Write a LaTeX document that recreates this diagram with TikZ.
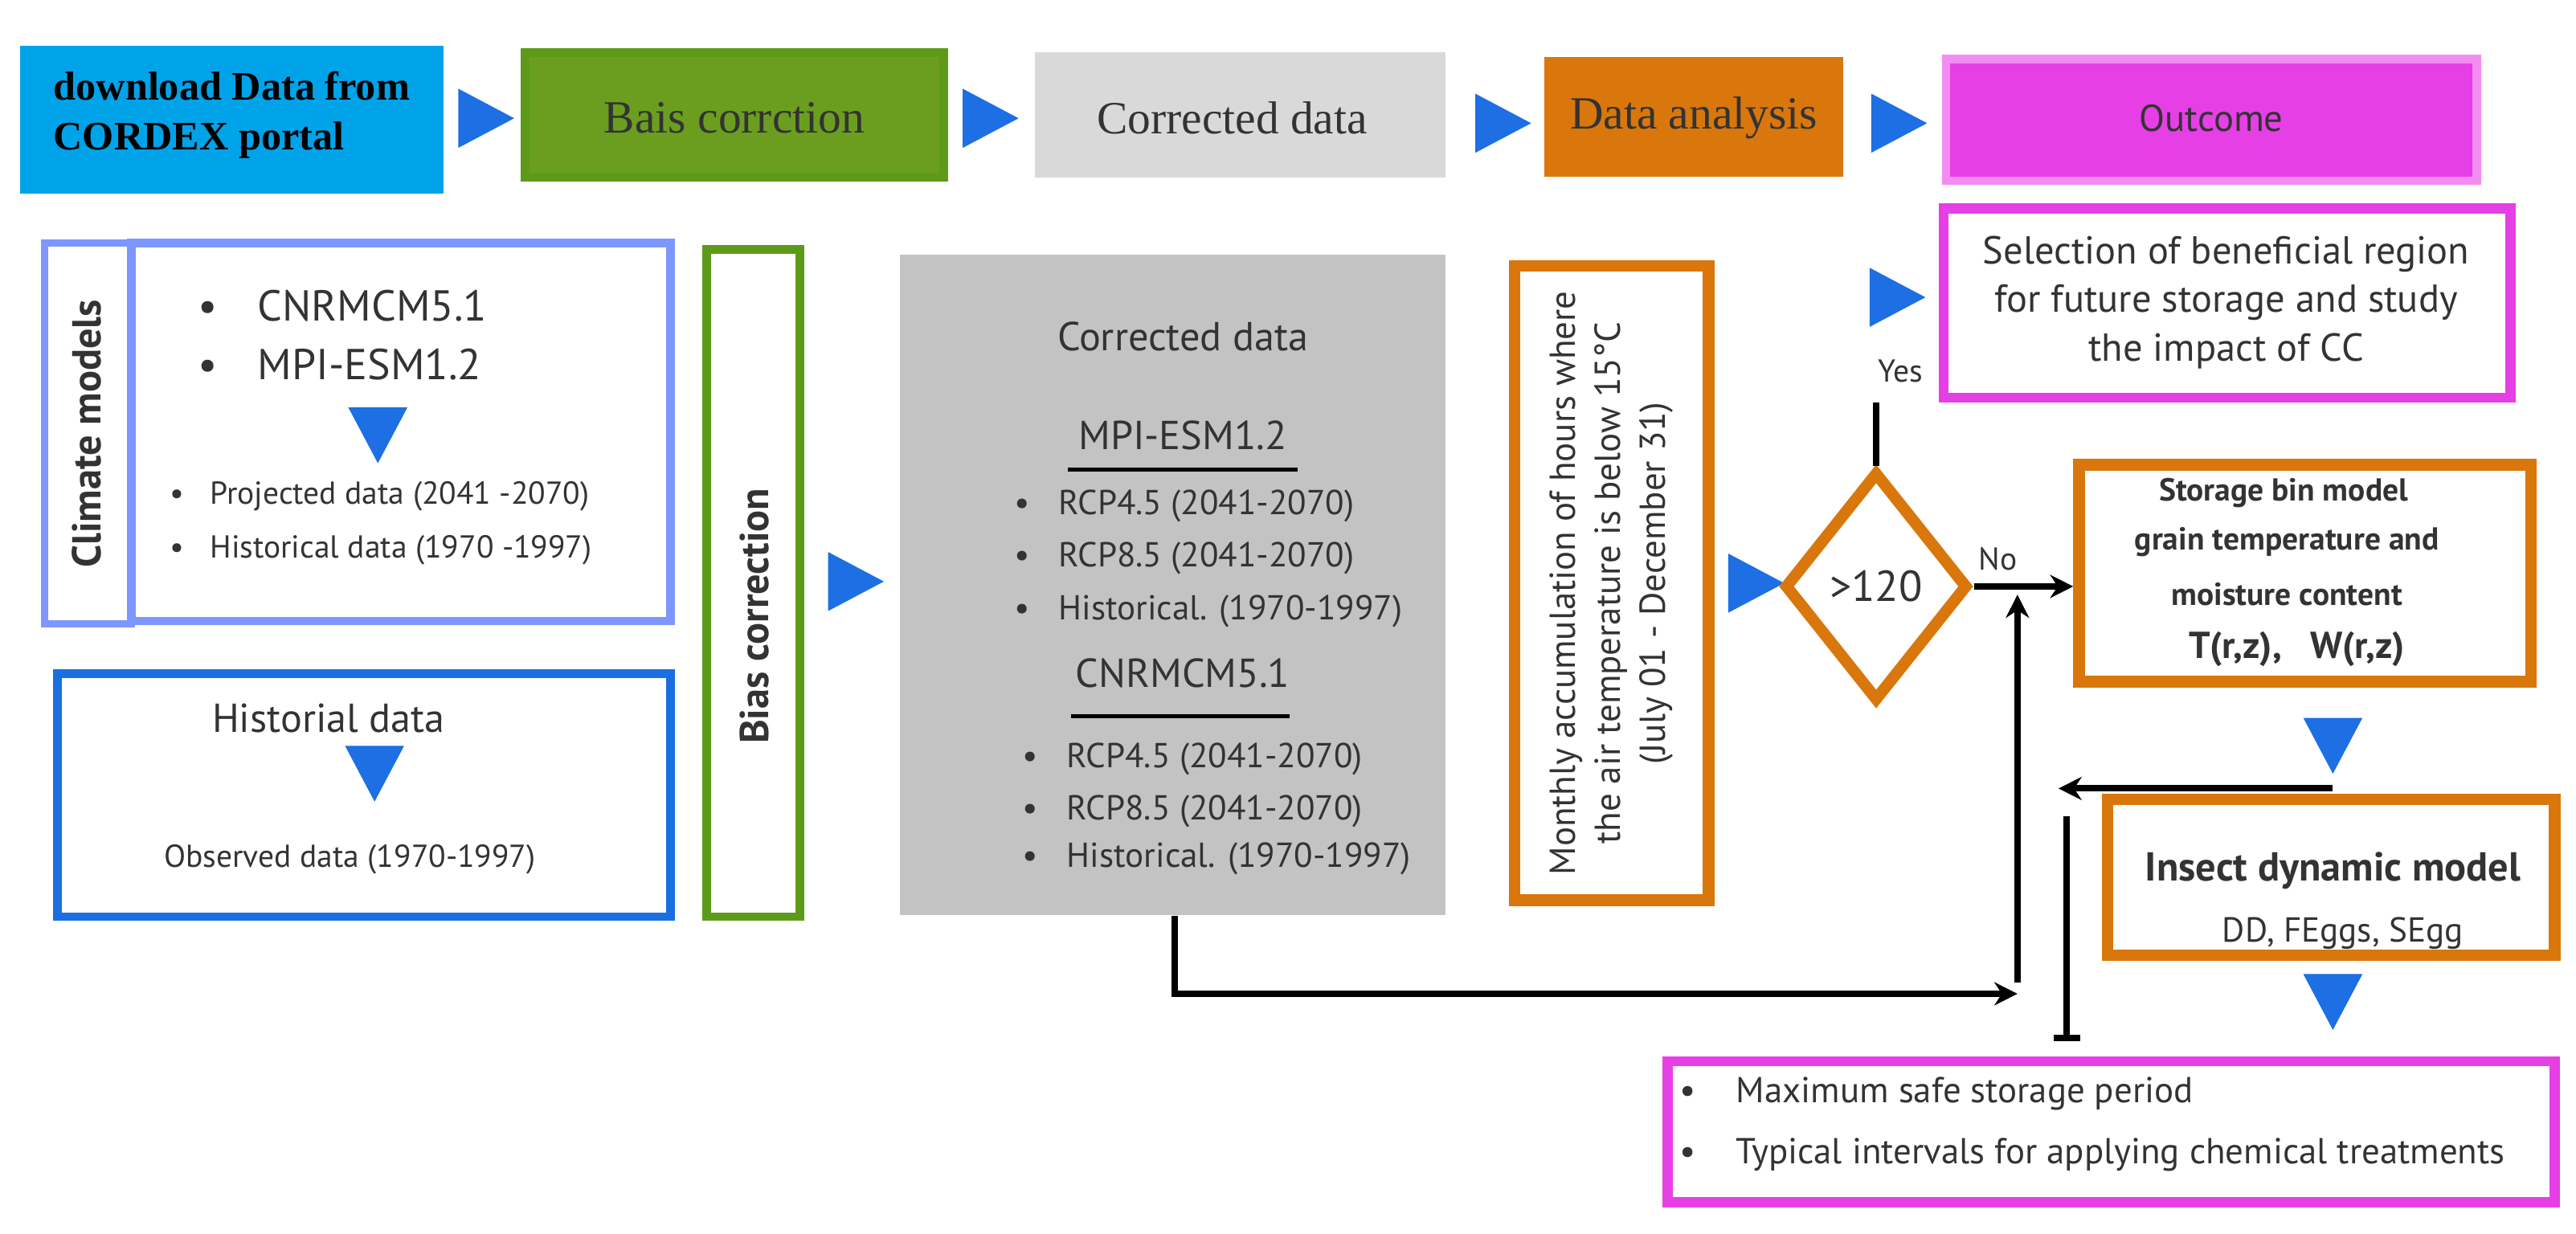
\documentclass[tikz,border=0pt]{standalone}
\usepackage{fontspec}
\setmainfont{PT Sans}
\newfontfamily\serifk{Liberation Serif}
\usetikzlibrary{shapes.geometric,arrows.meta}
\definecolor{tri}{HTML}{1D6FE3}
\definecolor{cyanb}{HTML}{00A3E8}
\definecolor{grn}{HTML}{6B9E1F}
\definecolor{grnb}{HTML}{5E9A1A}
\definecolor{lgray}{HTML}{D9D9D9}
\definecolor{org}{HTML}{D9770C}
\definecolor{mag}{HTML}{E63FE6}
\definecolor{magl}{HTML}{F28CF2}
\definecolor{bl1}{HTML}{7E96FF}
\definecolor{bl2}{HTML}{1A6FE0}
\definecolor{gbox}{HTML}{C3C3C3}
\definecolor{txt}{HTML}{333333}
\newcommand{\fs}[1]{\fontsize{#1pt}{1.25\dimexpr#1pt\relax}\selectfont}
\tikzset{
  tri/.pic={\fill[tri] (-14,-18) -- (20,0) -- (-14,18) -- cycle;},
  box/.style={draw, line width=#1, inner sep=0pt},
  lbl/.style={text=txt, align=center, inner sep=0pt},
  conn/.style={line width=2.2pt, -{Stealth[length=8pt,width=8pt]}},
  plain/.style={line width=2.2pt}
}
\begin{document}
\begin{tikzpicture}[x=0.02cm,y=-0.02cm]
\useasboundingbox (0,0) rectangle (1568,751);
% top row
\node[fill=cyanb, minimum width=258*0.02cm, minimum height=90*0.02cm, inner sep=0pt] (dl) at (141,73) {};
\node[align=left, font=\serifk\bfseries\fs{14}, inner sep=0pt] at (141,70) {download Data from\\CORDEX portal};
\pic at (293,72) {tri};
\node[fill=grn, draw=grnb, line width=3pt, minimum width=255*0.02cm, minimum height=76*0.02cm] (bc) at (447,70) {};
\node[font=\serifk\fs{16}, text=txt] at (447,72) {Bais corrction};
\pic at (600,72) {tri};
\node[fill=lgray, minimum width=250*0.02cm, minimum height=76*0.02cm] (cd) at (755,70) {};
\node[font=\serifk\fs{16}, text=txt] at (750,72) {Corrected data};
\pic at (912,75) {tri};
\node[fill=org, minimum width=182*0.02cm, minimum height=73*0.02cm] (da) at (1031,71) {};
\node[font=\serifk\fs{16}, text=txt] at (1031,72) {Data analysis};
\pic at (1153,75) {tri};
\node[fill=mag, draw=magl, line width=3pt, minimum width=323*0.02cm, minimum height=74*0.02cm] (oc) at (1346,73) {};
\node[font=\fs{13}, text=txt] at (1346,72) {Outcome};
% climate models
\draw[bl1, line width=2.5pt] (27,148) rectangle (80,380);
\node[rotate=90, font=\bfseries\fs{14}, text=txt] at (53,264) {Climate models};
\draw[bl1, line width=3pt] (80,148) rectangle (408,378);
\node[lbl, font=\fs{15}, anchor=west] at (120,186) {\textbullet\hspace{14pt}CNRMCM5.1};
\node[lbl, font=\fs{15}, anchor=west] at (120,222) {\textbullet\hspace{14pt}MPI-ESM1.2};
\pic[rotate=-90] at (230,262) {tri};
\node[lbl, font=\fs{11}, anchor=west] at (103,302) {\textbullet\hspace{9pt}Projected data (2041 -2070)};
\node[lbl, font=\fs{11}, anchor=west] at (103,335) {\textbullet\hspace{9pt}Historical data (1970 -1997)};
% historial
\draw[bl2, line width=3pt] (35,410) rectangle (408,558);
\node[lbl, font=\fs{14}] at (200,437) {Historial data};
\pic[rotate=-90] at (228,468) {tri};
\node[lbl, font=\fs{11}] at (213,523) {Observed data (1970-1997)};
% bias correction
\draw[grnb, line width=3pt] (430,152) rectangle (487,558);
\node[rotate=90, font=\bfseries\fs{14}, text=txt] at (459,375) {Bias correction};
\pic at (518,354) {tri};
% corrected data gray box
\node[fill=gbox, minimum width=332*0.02cm, minimum height=402*0.02cm] (gb) at (714,356) {};
\node[lbl, font=\fs{14}] at (720,205) {Corrected data};
\node[lbl, font=\fs{14}] at (720,265) {MPI-ESM1.2};
\draw[line width=1.5pt] (650,286) -- (790,286);
\node[lbl, font=\fs{12}, anchor=west] at (617,308) {\textbullet\hspace{10pt}RCP4.5 (2041-2070)};
\node[lbl, font=\fs{12}, anchor=west] at (617,340) {\textbullet\hspace{10pt}RCP8.5 (2041-2070)};
\node[lbl, font=\fs{12}, anchor=west] at (617,372) {\textbullet\hspace{10pt}Historical. (1970-1997)};
\node[lbl, font=\fs{14}] at (720,410) {CNRMCM5.1};
\draw[line width=1.5pt] (652,436) -- (785,436);
\node[lbl, font=\fs{12}, anchor=west] at (622,462) {\textbullet\hspace{10pt}RCP4.5 (2041-2070)};
\node[lbl, font=\fs{12}, anchor=west] at (622,494) {\textbullet\hspace{10pt}RCP8.5 (2041-2070)};
\node[lbl, font=\fs{12}, anchor=west] at (622,523) {\textbullet\hspace{10pt}Historical. (1970-1997)};
% monthly box
\draw[org, line width=4pt] (922,162) rectangle (1040,548);
\node[rotate=90, lbl, font=\fs{12.5}] at (981,355) {Monthly accumulation of hours where\\the air temperature is below 15°C\\(July 01 - December 31)};
\pic at (1066,355) {tri};
% diamond
\node[diamond, draw=org, line width=4pt, minimum width=112*0.02cm, minimum height=140*0.02cm, inner sep=0pt, font=\fs{15}, text=txt] (dm) at (1142,357) {>120};
\coordinate (yesend) at (1157,245);
\draw[plain] (dm.north) -- (dm.north |- yesend);
\node[lbl, font=\fs{11}] at (1157,226) {Yes};
\pic at (1152,181) {tri};
\draw[mag, line width=3.5pt] (1183,127) rectangle (1528,242);
\node[lbl, font=\fs{13.5}] (sel) at (1355,184) {Selection of beneficial region\\for future storage and study\\the impact of CC};
% storage box
\node[draw=org, line width=4pt, minimum width=275*0.02cm, minimum height=132*0.02cm] (sb) at (1403,349) {};
\node[lbl, font=\bfseries\fs{11}] at (1390,300) {Storage bin model};
\node[lbl, font=\bfseries\fs{11}] at (1392,330) {grain temperature and};
\node[lbl, font=\bfseries\fs{11}] at (1392,362) {moisture content};
\node[lbl, font=\bfseries\fs{13}] at (1398,395) {T(r,z),\ \ \ W(r,z)};
\draw[conn] (dm.east) -- (sb.west |- dm.east);
\node[lbl, font=\fs{11}] at (1216,340) {No};
\pic[rotate=-90] at (1420,451) {tri};
\coordinate (ra) at (1420,480);
\coordinate (rb) at (1253,480);
\draw[conn] (ra) -- (rb);
\coordinate (va) at (1258,497);
\coordinate (vb) at (1258,632);
\draw[plain] (va) -- (vb);
\draw[plain] (1250,632) -- (1266,632);
% insect box
\node[draw=org, line width=4pt, minimum width=272*0.02cm, minimum height=95*0.02cm] (ib) at (1419,534) {};
\node[lbl, font=\bfseries\fs{14}] at (1420,530) {Insect dynamic model};
\node[lbl, font=\fs{12}] at (1426,568) {DD, FEggs, SEgg};
\pic[rotate=-90] at (1420,607) {tri};
% final box
\draw[mag, line width=3.5pt] (1015,646) rectangle (1555,732);
\node[lbl, font=\fs{12.5}, anchor=west] at (1022,666) {\textbullet\hspace{14pt}Maximum safe storage period};
\node[lbl, font=\fs{12.5}, anchor=west] at (1022,703) {\textbullet\hspace{14pt}Typical intervals for applying chemical treatments};
% bottom loop
\coordinate (l1) at (715,605);
\coordinate (l2) at (1228,605);
\coordinate (l3) at (1228,598);
\coordinate (l4) at (1228,362);
\draw[line width=2.2pt, -{Stealth[length=8pt,width=8pt]}] (gb.south -| l1) -- (l1) -- (l2);
\draw[conn] (l3) -- (l4);
\end{tikzpicture}
\end{document}
